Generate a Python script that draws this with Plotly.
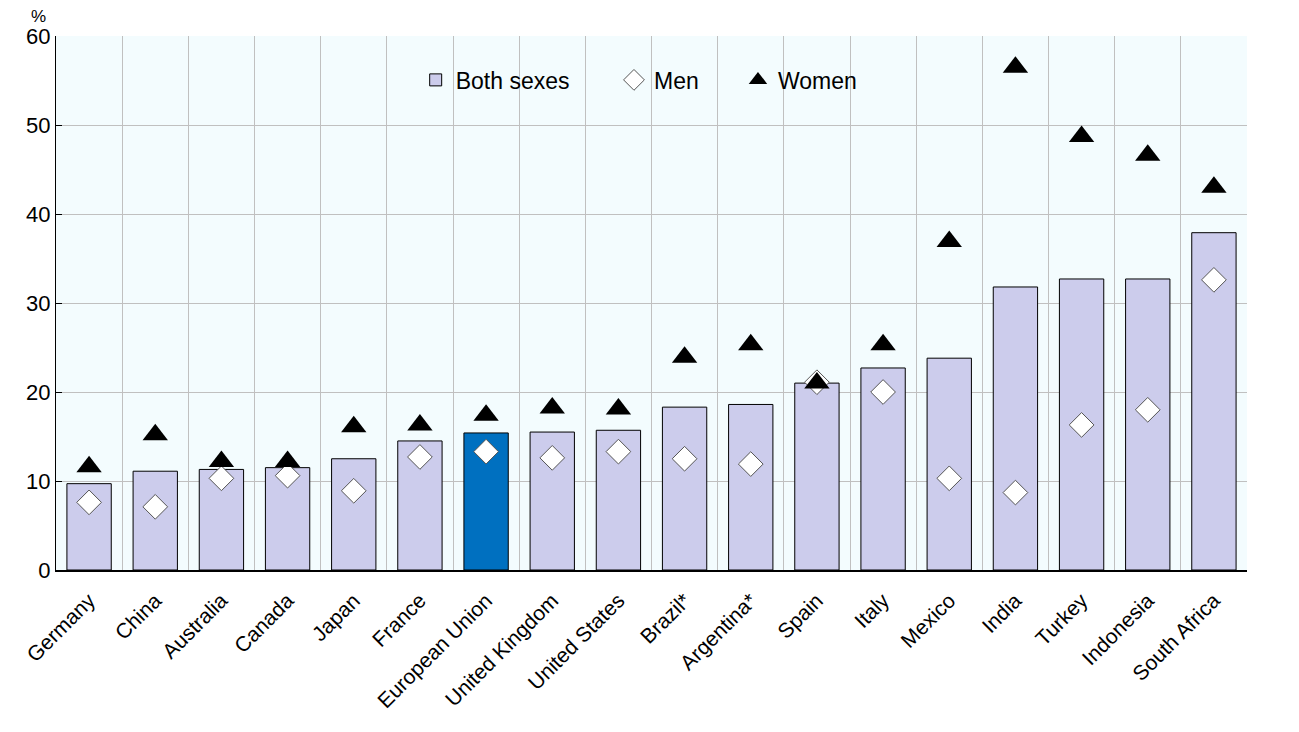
import plotly.graph_objects as go

countries = ["Germany", "China", "Australia", "Canada", "Japan", "France", "European Union",
             "United Kingdom", "United States", "Brazil*", "Argentina*", "Spain", "Italy",
             "Mexico", "India", "Turkey", "Indonesia", "South Africa"]
both = [9.7, 11.1, 11.3, 11.5, 12.5, 14.5, 15.4, 15.5, 15.7, 18.3, 18.6, 21.0, 22.7, 23.8, 31.8, 32.7, 32.7, 37.9]
men = [7.6, 7.1, 10.3, 10.6, 8.9, 12.7, 13.3, 12.6, 13.3, 12.5, 11.9, 21.1, 20.0, 10.3, 8.7, 16.3, 18.0, 32.6]
women = [11.6, 15.2, 12.2, 12.2, 16.1, 16.3, 17.4, 18.2, 18.1, 23.9, 25.3, 21.0, 25.3, 36.9, 56.5, 48.7, 46.6, 43.0]
yticks = [0, 10, 20, 30, 40, 50, 60]

bar_colors = ["#0070C0" if c == "European Union" else "#CCCCEC" for c in countries]

FONT = "Liberation Sans, Arial, sans-serif"

fig = go.Figure()
fig.add_trace(go.Bar(x=countries, y=both, name="Both sexes", legend="legend",
                     marker=dict(color=bar_colors, line=dict(color="black", width=1)), width=0.67))
fig.add_trace(go.Scatter(x=countries, y=men, name="Men", mode="markers", legend="legend2",
                         marker=dict(symbol="diamond", size=19, color="white", line=dict(color="#555555", width=1))))
fig.add_trace(go.Scatter(x=countries, y=women, name="Women", mode="markers", legend="legend3",
                         marker=dict(symbol="triangle-up", size=22, color="black", line=dict(color="black", width=0))))

leg_common = dict(orientation="h", y=0.958, xanchor="left", yanchor="top",
                  bgcolor="rgba(0,0,0,0)", font=dict(size=23), itemwidth=30)
fig.update_layout(
    width=1299, height=732,
    margin=dict(l=48, r=60, t=28, b=170),
    paper_bgcolor="white", plot_bgcolor="#F3FCFE",
    font=dict(family=FONT, size=22, color="black"),
    showlegend=True,
    legend=dict(x=0.302, **leg_common),
    legend2=dict(x=0.4685, **leg_common),
    legend3=dict(x=0.5726, **leg_common),
    bargap=0.33,
)
fig.update_xaxes(type="category", tickson="boundaries", showgrid=True, gridcolor="#C0C0C0", gridwidth=1,
                 ticks="", tickangle=-45, showline=True, linecolor="black", linewidth=2,
                 tickfont=dict(size=21), range=[-0.5, len(countries) - 0.5], automargin=False,
                 ticklabelstandoff=8)
fig.update_yaxes(range=[0, 60], tickvals=yticks, showgrid=True, gridcolor="#C0C0C0", gridwidth=1,
                 ticks="inside", ticklen=6, tickcolor="black", showline=True, linecolor="black", linewidth=1,
                 zeroline=False, tickfont=dict(size=22), automargin=False)
fig.add_annotation(text="%", xref="paper", yref="paper", x=0.0, y=1.0, xanchor="center", yanchor="middle",
                   showarrow=False, font=dict(size=17), xshift=-18, yshift=20)

fig.write_html("out.html")
